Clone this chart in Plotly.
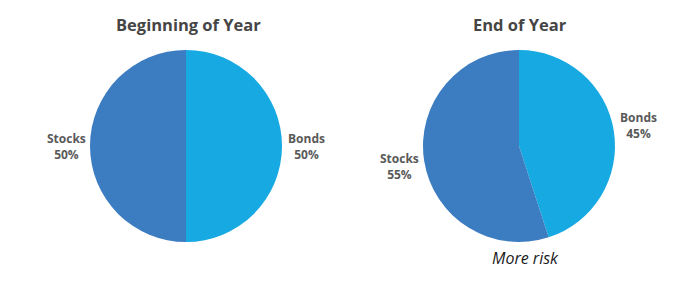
import plotly.graph_objects as go

labels = ["Bonds", "Stocks"]
begin_values = [50, 50]
end_values = [45, 55]
colors = ["#17a9e1", "#3c7cc0"]
titles = ["Beginning of Year", "End of Year"]

W, H = 691, 284

def dom(x0, x1, ytop, ybot):
    return dict(x=[x0 / W, x1 / W], y=[(H - ybot) / H, (H - ytop) / H])

fig = go.Figure()
fig.add_trace(go.Pie(labels=labels, values=begin_values, sort=False, direction="clockwise",
                     rotation=0, textinfo="none", hoverinfo="label+percent",
                     marker=dict(colors=colors, line=dict(width=0)),
                     domain=dom(90, 282, 50, 242), showlegend=False))
fig.add_trace(go.Pie(labels=labels, values=end_values, sort=False, direction="clockwise",
                     rotation=0, textinfo="none", hoverinfo="label+percent",
                     marker=dict(colors=colors, line=dict(width=0)),
                     domain=dom(423, 615, 50, 242), showlegend=False))

ann = []
def txt(x, y, t, size=12, color="#595959", bold=True, italic=False):
    s = t
    if bold:
        s = "<b>" + s + "</b>"
    if italic:
        s = "<i>" + s + "</i>"
    ann.append(dict(x=x / W, y=(H - y) / H, xref="paper", yref="paper", text=s,
                    showarrow=False, font=dict(family="Open Sans", size=size, color=color),
                    xanchor="center", yanchor="middle", align="center"))

txt(188, 24, titles[0], size=16.5, color="#454545")
txt(520, 24, titles[1], size=16.5, color="#454545")
txt(66, 146, f"{labels[1]}<br>{begin_values[1]}%")
txt(306, 146, f"{labels[0]}<br>{begin_values[0]}%")
txt(399, 166, f"{labels[1]}<br>{end_values[1]}%")
txt(638, 126, f"{labels[0]}<br>{end_values[0]}%")
txt(525, 258, "More risk", size=16, color="#1a1a1a", bold=False, italic=True)

fig.update_layout(width=W, height=H, margin=dict(l=0, r=0, t=0, b=0),
                  paper_bgcolor="white", plot_bgcolor="white", annotations=ann)
fig.write_html("out.html")
